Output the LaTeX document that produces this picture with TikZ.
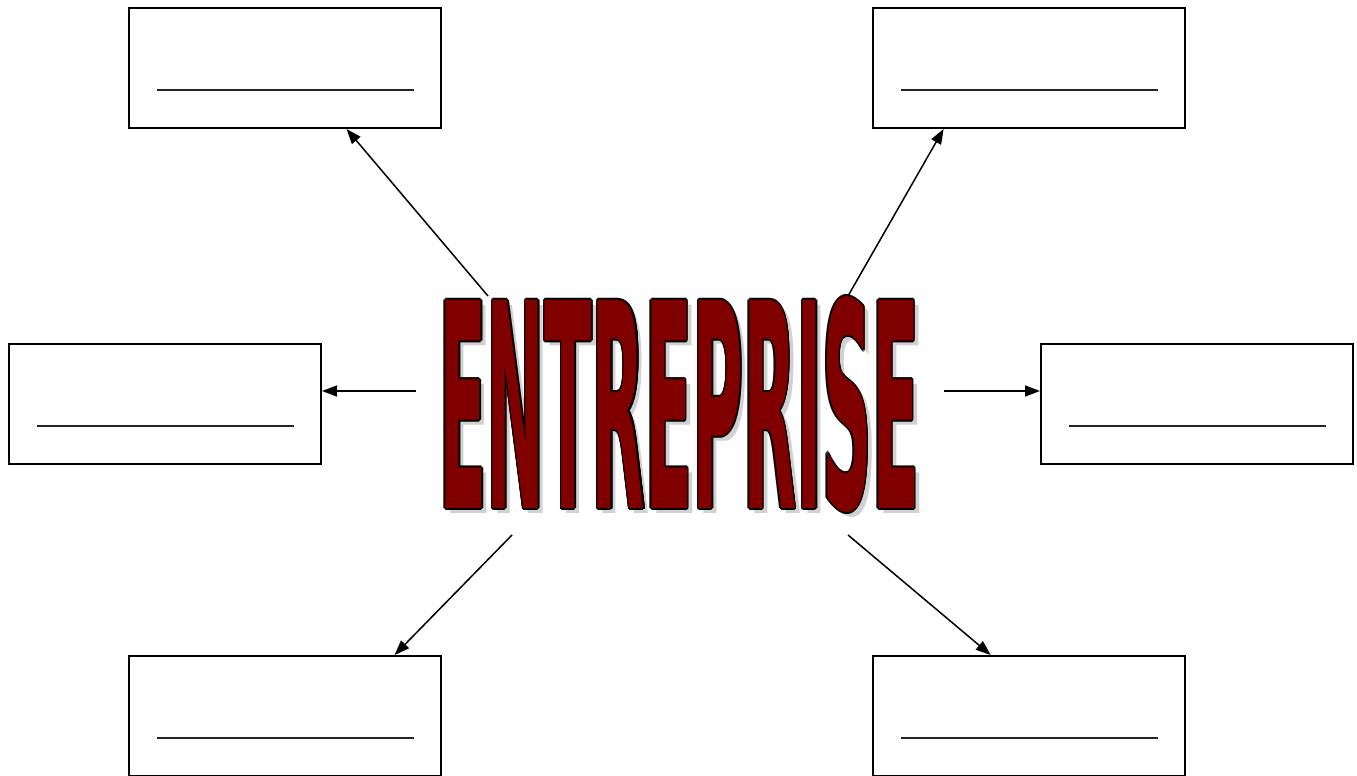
\documentclass[tikz,border=0pt]{standalone}
\usepackage{fontspec}
\setmainfont{DejaVu Sans Condensed}
\usetikzlibrary{arrows.meta,calc}
\definecolor{wordred}{HTML}{800000}
\newcommand{\entword}[1]{\resizebox{480pt}{212pt}{\color{#1}\bfseries ENTREPRISE}}
\begin{document}
\begin{tikzpicture}[x=1pt,y=-1pt,
  blank/.style={draw=black,line width=2pt,minimum width=312pt,minimum height=120pt,inner sep=0pt,anchor=north west},
  rule/.style={line width=1.2pt,black!85},
  arr/.style={line width=1.5pt,-{Triangle[length=15pt,width=11pt]}},
  wa/.style={inner sep=0pt}]
\useasboundingbox (0,0) rectangle (1357,776);
% boxes
\node[blank] (tl) at (128,7) {};
\node[blank] (tr) at (872,7) {};
\node[blank] (ml) at (8,343) {};
\node[blank] (mr) at (1040,343) {};
\node[blank] (bl) at (128,655) {};
\node[blank] (br) at (872,655) {};
\foreach \b in {tl,tr,ml,mr,bl,br}{
  \draw[rule] ($(\b.west)+(29,22)$) -- ($(\b.east)+(-28,22)$);
}
% word art
\node[wa,opacity=0.3] at (684.5,409.5) {\entword{black!60}};
\foreach \dx/\dy in {-1.6/0,1.6/0,0/-1.6,0/1.6,-1.1/-1.1,1.1/1.1,-1.1/1.1,1.1/-1.1}{
  \node[wa] at (679.5+\dx,404.5+\dy) {\entword{black}};
}
\node[wa] (ent) at (679.5,404.5) {\entword{wordred}};
% arrow starts
\coordinate (s1) at (488,296);
\coordinate (s2) at (848,296);
\coordinate (s3) at (416,391);
\coordinate (s4) at (944,391);
\coordinate (s5) at (512,535);
\coordinate (s6) at (848,535);
\draw[arr] (s1) -- ($(tl.south west)!0.696!(tl.south east)$);
\draw[arr] (s2) -- ($(tr.south west)!0.228!(tr.south east)$);
\draw[arr] (s3) -- (s3 -| ml.east);
\draw[arr] (s4) -- (s4 -| mr.west);
\draw[arr] (s5) -- ($(bl.north west)!0.849!(bl.north east)$);
\draw[arr] (s6) -- ($(br.north west)!0.378!(br.north east)$);
\end{tikzpicture}
\end{document}
